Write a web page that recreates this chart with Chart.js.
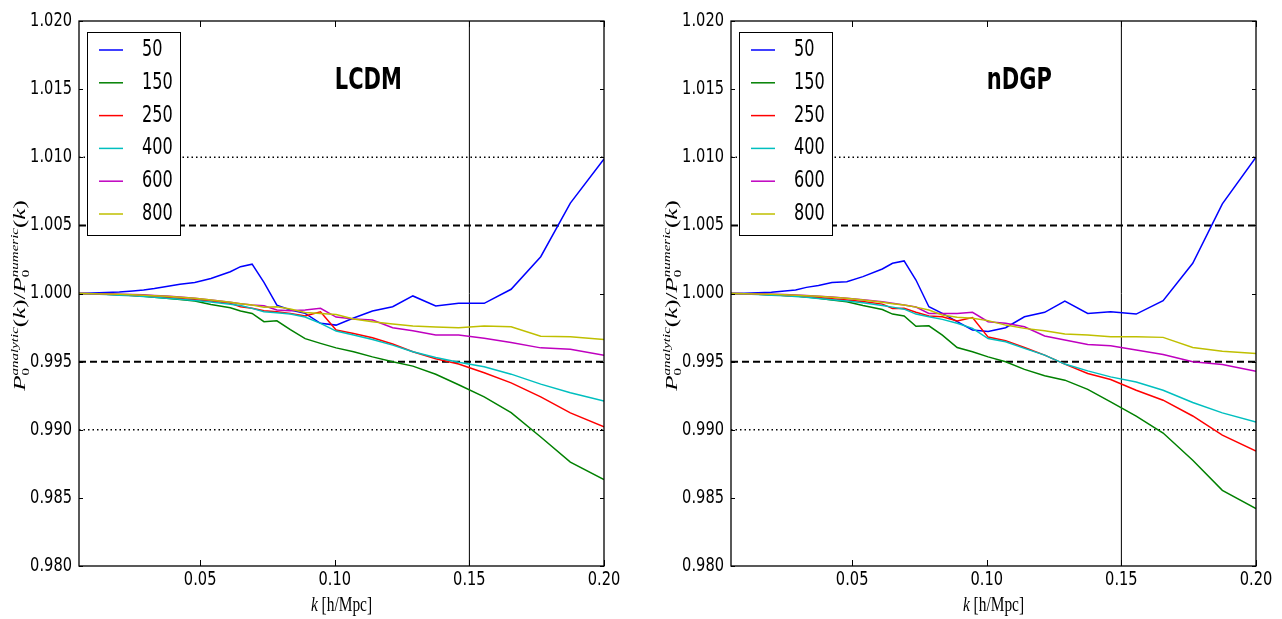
<!DOCTYPE html>
<html>
<head>
<meta charset="utf-8">
<title>Analytic / numeric monopole ratio</title>
<script src="https://cdn.jsdelivr.net/npm/chart.js@4.4.1/dist/chart.umd.min.js"></script>
<style>
    body { margin: 0; background: #fff; }
    .panel { position: absolute; top: 0; width: 641px; height: 619px; }
    #panel-lcdm { left: 0; }
    #panel-ndgp { left: 641px; }
</style>
</head>
<body>
<div class="panel" id="panel-lcdm"><canvas id="lcdmChart" width="641" height="619"></canvas></div>
<div class="panel" id="panel-ndgp"><canvas id="ndgpChart" width="641" height="619"></canvas></div>
<script>
// k bins [h/Mpc], shared by every curve
const kValues = [0.005, 0.010, 0.015, 0.020, 0.025, 0.029, 0.033, 0.0375, 0.0425, 0.048,
    0.054, 0.0612, 0.065, 0.0693, 0.0737, 0.0785, 0.0835, 0.089, 0.0947, 0.1005,
    0.107, 0.114, 0.1215, 0.129, 0.1375, 0.146, 0.1555, 0.1655, 0.1765, 0.1875, 0.200];

const seriesNames = ['50', '150', '250', '400', '600', '800'];
const seriesColors = ['#0000ff', '#008000', '#ff0000', '#00bfbf', '#bf00bf', '#bfbf00'];

// LCDM ratios
const lcdm50 = [1.00000, 1.00004, 1.00007, 1.00011, 1.00018, 1.00025, 1.00036, 1.00052, 1.00068, 1.00080,
    1.00110, 1.00160, 1.00197, 1.00215, 1.00082, 0.99915, 0.99879, 0.99854, 0.99781, 0.99768,
    0.99820, 0.99871, 0.99903, 0.99982, 0.99908, 0.99928, 0.99928, 1.00031, 1.00270, 1.00663, 1.00987];
const lcdm150 = [1.00000, 0.99998, 0.99994, 0.99990, 0.99985, 0.99980, 0.99973, 0.99965, 0.99956, 0.99945,
    0.99920, 0.99896, 0.99871, 0.99854, 0.99793, 0.99800, 0.99735, 0.99669, 0.99634, 0.99601,
    0.99572, 0.99535, 0.99499, 0.99467, 0.99407, 0.99330, 0.99241, 0.99126, 0.98947, 0.98763, 0.98634];
const lcdm250 = [1.00000, 0.99998, 0.99995, 0.99991, 0.99986, 0.99982, 0.99977, 0.99970, 0.99963, 0.99955,
    0.99945, 0.99928, 0.99903, 0.99891, 0.99874, 0.99866, 0.99854, 0.99835, 0.99866, 0.99732,
    0.99706, 0.99675, 0.99629, 0.99572, 0.99521, 0.99482, 0.99418, 0.99344, 0.99241, 0.99124, 0.99021];
const lcdm400 = [1.00000, 0.99997, 0.99993, 0.99988, 0.99983, 0.99978, 0.99972, 0.99965, 0.99957, 0.99948,
    0.99937, 0.99921, 0.99912, 0.99891, 0.99866, 0.99859, 0.99849, 0.99827, 0.99781, 0.99724,
    0.99695, 0.99663, 0.99621, 0.99572, 0.99531, 0.99496, 0.99462, 0.99408, 0.99335, 0.99271, 0.99210];
const lcdm600 = [1.00000, 0.99999, 0.99997, 0.99995, 0.99992, 0.99990, 0.99986, 0.99982, 0.99975, 0.99965,
    0.99952, 0.99935, 0.99925, 0.99915, 0.99910, 0.99879, 0.99874, 0.99879, 0.99891, 0.99827,
    0.99813, 0.99805, 0.99749, 0.99726, 0.99695, 0.99695, 0.99671, 0.99641, 0.99601, 0.99590, 0.99546];
const lcdm800 = [1.00000, 0.99999, 0.99997, 0.99994, 0.99991, 0.99988, 0.99984, 0.99979, 0.99973, 0.99965,
    0.99953, 0.99935, 0.99925, 0.99915, 0.99900, 0.99903, 0.99886, 0.99860, 0.99854, 0.99846,
    0.99813, 0.99793, 0.99776, 0.99761, 0.99754, 0.99749, 0.99761, 0.99756, 0.99687, 0.99682, 0.99663];

// nDGP ratios
const ndgp50 = [1.00000, 1.00002, 1.00005, 1.00010, 1.00019, 1.00026, 1.00045, 1.00058, 1.00080, 1.00087,
    1.00124, 1.00180, 1.00222, 1.00239, 1.00099, 0.99903, 0.99854, 0.99793, 0.99732, 0.99722,
    0.99749, 0.99829, 0.99862, 0.99945, 0.99854, 0.99866, 0.99849, 0.99947, 1.00222, 1.00658, 1.01001];
const ndgp150 = [1.00000, 0.99998, 0.99995, 0.99991, 0.99986, 0.99981, 0.99975, 0.99965, 0.99953, 0.99940,
    0.99912, 0.99882, 0.99849, 0.99835, 0.99759, 0.99763, 0.99695, 0.99604, 0.99572, 0.99535,
    0.99499, 0.99443, 0.99396, 0.99364, 0.99296, 0.99204, 0.99100, 0.98976, 0.98776, 0.98555, 0.98421];
const ndgp250 = [1.00000, 0.99998, 0.99995, 0.99991, 0.99986, 0.99982, 0.99977, 0.99970, 0.99962, 0.99953,
    0.99941, 0.99922, 0.99890, 0.99891, 0.99862, 0.99835, 0.99829, 0.99798, 0.99824, 0.99680,
    0.99654, 0.99604, 0.99548, 0.99482, 0.99413, 0.99369, 0.99290, 0.99217, 0.99101, 0.98960, 0.98844];
const ndgp400 = [1.00000, 0.99997, 0.99993, 0.99988, 0.99983, 0.99978, 0.99972, 0.99964, 0.99955, 0.99945,
    0.99932, 0.99912, 0.99900, 0.99885, 0.99849, 0.99829, 0.99810, 0.99781, 0.99744, 0.99669,
    0.99646, 0.99597, 0.99548, 0.99482, 0.99432, 0.99388, 0.99351, 0.99290, 0.99200, 0.99124, 0.99057];
const ndgp600 = [1.00000, 0.99999, 0.99997, 0.99995, 0.99992, 0.99989, 0.99985, 0.99980, 0.99974, 0.99966,
    0.99955, 0.99940, 0.99928, 0.99915, 0.99901, 0.99854, 0.99854, 0.99854, 0.99862, 0.99793,
    0.99781, 0.99756, 0.99688, 0.99658, 0.99626, 0.99616, 0.99585, 0.99553, 0.99499, 0.99479, 0.99430];
const ndgp800 = [1.00000, 0.99999, 0.99997, 0.99994, 0.99991, 0.99988, 0.99984, 0.99979, 0.99973, 0.99965,
    0.99953, 0.99935, 0.99925, 0.99915, 0.99900, 0.99879, 0.99842, 0.99825, 0.99818, 0.99801,
    0.99768, 0.99744, 0.99726, 0.99702, 0.99695, 0.99682, 0.99682, 0.99678, 0.99604, 0.99577, 0.99560];

// axes
const xMin = 0.005, xMax = 0.20;
const yMin = 0.980, yMax = 1.020;
const xTicks = [0.05, 0.10, 0.15, 0.20];
const yTicks = [0.980, 0.985, 0.990, 0.995, 1.000, 1.005, 1.010, 1.015, 1.020];

// reference levels
const dottedLevels = [0.990, 1.010];
const dashedLevels = [0.995, 1.005];
const kCut = 0.15;

// panel label anchor (data coords)
const titleK = 0.10, titleV = 1.015;

// text in the saved figure is narrow, so glyphs get squeezed horizontally
const SQUEEZE = 0.7;
const TICK_SQUEEZE = 0.77;

function squeezedText(ctx, text, x, y, font, align, baseline, sx) {
    ctx.save();
    ctx.font = font;
    ctx.textAlign = align;
    ctx.textBaseline = baseline;
    ctx.translate(x, y);
    ctx.scale(sx || SQUEEZE, 1);
    ctx.fillText(text, 0, 0);
    ctx.restore();
}

// lays out text runs along one baseline, centred on (x, y); "hold" runs are stacked with the next one
function drawRuns(ctx, runs, x, y, angle, sx, sy) {
    ctx.save();
    ctx.translate(x, y);
    ctx.rotate(angle);
    ctx.scale(sx, sy);
    ctx.textBaseline = 'alphabetic';
    ctx.textAlign = 'left';
    let total = 0, held = 0;
    runs.forEach(r => {
        ctx.font = r.font;
        r.w = ctx.measureText(r.text).width;
        if (r.hold) { held = Math.max(held, r.w); }
        else { total += Math.max(held, r.w); held = 0; }
    });
    let pen = -total / 2;
    held = 0;
    runs.forEach(r => {
        ctx.font = r.font;
        ctx.fillText(r.text, pen, r.dy || 0);
        if (r.hold) { held = Math.max(held, r.w); }
        else { pen += Math.max(held, r.w); held = 0; }
    });
    ctx.restore();
}

const serif = '"Liberation Serif", "DejaVu Serif", serif';
const big = '25px ' + serif, bigIt = 'italic 25px ' + serif;
const small = '15px ' + serif, smallIt = 'italic 15px ' + serif;
const yLabelRuns = [
    { text: 'P', font: bigIt },
    { text: 'analytic', font: smallIt, dy: -10, hold: true },
    { text: '0', font: small, dy: 5 },
    { text: '(', font: big }, { text: 'k', font: bigIt }, { text: ')', font: big },
    { text: '/', font: big },
    { text: 'P', font: bigIt },
    { text: 'numeric', font: smallIt, dy: -10, hold: true },
    { text: '0', font: small, dy: 5 },
    { text: '(', font: big }, { text: 'k', font: bigIt }, { text: ')', font: big }
];
const xLabelRuns = [
    { text: 'k', font: 'italic 22px ' + serif },
    { text: ' [h/Mpc]', font: '22px ' + serif }
];

const decorPlugin = {
    id: 'mplDecor',
    afterDraw(chart, args, opts) {
        const ctx = chart.ctx;
        const area = chart.chartArea;
        const xs = chart.scales.x, ys = chart.scales.y;
        ctx.save();

        // axes frame
        ctx.strokeStyle = '#000';
        ctx.lineWidth = 1.3;
        ctx.strokeRect(area.left, area.top, area.right - area.left, area.bottom - area.top);

        // inward ticks on all four sides
        ctx.lineWidth = 1;
        ctx.beginPath();
        yTicks.forEach(v => {
            const py = Math.round(ys.getPixelForValue(v)) + 0.5;
            ctx.moveTo(area.left, py); ctx.lineTo(area.left + 4, py);
            ctx.moveTo(area.right, py); ctx.lineTo(area.right - 4, py);
        });
        xTicks.forEach(v => {
            const px = Math.round(xs.getPixelForValue(v)) + 0.5;
            ctx.moveTo(px, area.bottom); ctx.lineTo(px, area.bottom - 6);
            ctx.moveTo(px, area.top); ctx.lineTo(px, area.top + 6);
        });
        ctx.stroke();

        // tick labels
        ctx.fillStyle = '#000';
        const tickFont = '19px "DejaVu Sans"';
        yTicks.forEach(v => squeezedText(ctx, v.toFixed(3), area.left - 7, ys.getPixelForValue(v),
            tickFont, 'right', 'middle', TICK_SQUEEZE));
        xTicks.forEach(v => squeezedText(ctx, v.toFixed(2), xs.getPixelForValue(v), area.bottom + 5,
            tickFont, 'center', 'top', TICK_SQUEEZE));

        // axis labels
        drawRuns(ctx, xLabelRuns, (area.left + area.right) / 2, area.bottom + 45, 0, SQUEEZE, 1);
        drawRuns(ctx, yLabelRuns, area.left - 54, (area.top + area.bottom) / 2 + 2, -Math.PI / 2, 1, SQUEEZE);

        // model name
        squeezedText(ctx, opts.title, xs.getPixelForValue(titleK), ys.getPixelForValue(titleV),
            'bold 30px "DejaVu Sans"', 'left', 'alphabetic');

        // legend box
        const lx = area.left + 8, ly = area.top + 11;
        ctx.fillStyle = '#fff';
        ctx.fillRect(lx, ly, 93, 203);
        ctx.strokeStyle = '#000';
        ctx.lineWidth = 1;
        ctx.strokeRect(lx + 0.5, ly + 0.5, 93, 203);
        seriesNames.forEach((name, i) => {
            const ry = ly + 18 + i * 32.8;
            ctx.strokeStyle = seriesColors[i];
            ctx.lineWidth = 1.5;
            ctx.beginPath();
            ctx.moveTo(lx + 12, ry);
            ctx.lineTo(lx + 36, ry);
            ctx.stroke();
            ctx.fillStyle = '#000';
            squeezedText(ctx, name, lx + 55, ry, '23px "DejaVu Sans"', 'left', 'middle');
        });
        ctx.restore();
    }
};

function buildDatasets(seriesList) {
    const sets = seriesList.map((vals, i) => ({
        label: seriesNames[i],
        data: kValues.map((k, j) => ({ x: k, y: vals[j] })),
        borderColor: seriesColors[i],
        borderWidth: 1.5,
        order: seriesList.length - i
    }));
    dottedLevels.forEach(v => sets.push({
        data: [{ x: xMin, y: v }, { x: xMax, y: v }],
        borderColor: '#000', borderWidth: 1.3, borderDash: [1.5, 3], order: 20
    }));
    dashedLevels.forEach(v => sets.push({
        data: [{ x: xMin, y: v }, { x: xMax, y: v }],
        borderColor: '#000', borderWidth: 2, borderDash: [7, 4], order: 20
    }));
    sets.push({
        data: [{ x: kCut, y: yMin }, { x: kCut, y: yMax }],
        borderColor: '#000', borderWidth: 1, order: 20
    });
    return sets;
}

function ratioChart(target, title, seriesList, axisWidth, padRight) {
    return new Chart(target, {
        type: 'line',
        data: { datasets: buildDatasets(seriesList) },
        options: {
            responsive: false,
            animation: false,
            events: [],
            layout: { autoPadding: false, padding: { left: 0, top: 21, right: padRight, bottom: 0 } },
            elements: { point: { radius: 0 }, line: { tension: 0 } },
            scales: {
                x: {
                    type: 'linear', min: xMin, max: xMax,
                    grid: { display: false }, border: { display: false },
                    ticks: { display: false },
                    afterBuildTicks: scale => { scale.ticks = xTicks.map(v => ({ value: v })); },
                    afterFit: scale => { scale.height = 53; }
                },
                y: {
                    type: 'linear', min: yMin, max: yMax,
                    grid: { display: false }, border: { display: false },
                    ticks: { display: false },
                    afterBuildTicks: scale => { scale.ticks = yTicks.map(v => ({ value: v })); },
                    afterFit: scale => { scale.width = axisWidth; }
                }
            },
            plugins: {
                legend: { display: false },
                tooltip: { enabled: false },
                mplDecor: { title: title }
            }
        },
        plugins: [decorPlugin]
    });
}

ratioChart(document.getElementById('lcdmChart'), 'LCDM',
    [lcdm50, lcdm150, lcdm250, lcdm400, lcdm600, lcdm800], 79, 37);
ratioChart(document.getElementById('ndgpChart'), 'nDGP',
    [ndgp50, ndgp150, ndgp250, ndgp400, ndgp600, ndgp800], 90, 26);
</script>
</body>
</html>
